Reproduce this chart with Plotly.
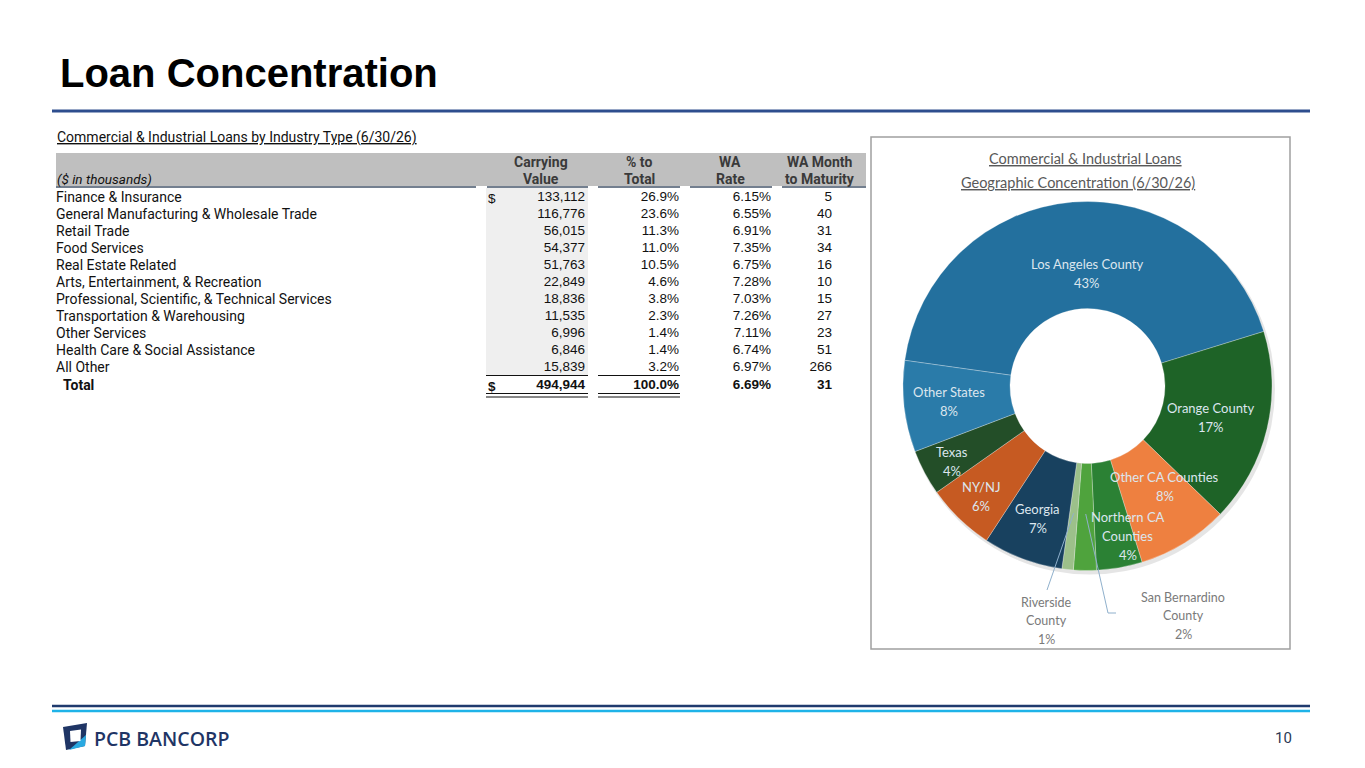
import math
import plotly.graph_objects as go

W, H = 1365, 768

# ---- table data: C&I loans by industry type ----
industries = [
    "Finance & Insurance",
    "General Manufacturing & Wholesale Trade",
    "Retail Trade",
    "Food Services",
    "Real Estate Related",
    "Arts, Entertainment, & Recreation",
    "Professional, Scientific, & Technical Services",
    "Transportation & Warehousing",
    "Other Services",
    "Health Care & Social Assistance",
    "All Other",
]
carrying_value = [133112, 116776, 56015, 54377, 51763, 22849, 18836, 11535, 6996, 6846, 15839]
pct_to_total = [26.9, 23.6, 11.3, 11.0, 10.5, 4.6, 3.8, 2.3, 1.4, 1.4, 3.2]
wa_rate = [6.15, 6.55, 6.91, 7.35, 6.75, 7.28, 7.03, 7.26, 7.11, 6.74, 6.97]
wa_months = [5, 40, 31, 34, 16, 10, 15, 27, 23, 51, 266]
total_value = 494944
total_pct = 100.0
total_rate = 6.69
total_months = 31

# ---- donut data: geographic concentration ----
regions = [
    "Los Angeles County", "Orange County", "Other CA Counties", "Northern CA<br>Counties",
    "San Bernardino<br>County", "Riverside<br>County", "Georgia", "NY/NJ", "Texas", "Other States",
]
region_pct = [43, 17, 8, 4, 2, 1, 7, 6, 4, 8]

# ---- styles ----
region_colors = ["#23709E", "#1E6327", "#EE8040", "#2B8134", "#4FA33D",
                 "#9CC08A", "#18415F", "#C65A22", "#234E28", "#2A7BA9"]
outside = {"San Bernardino<br>County": (1183, 597), "Riverside<br>County": (1046, 602)}
# label placement: (radius, angle nudge in degrees)
label_pos = {"Los Angeles County": (113, 4.5), "Orange County": (127, 1), "Other CA Counties": (127, -6),
             "Northern CA<br>Counties": (155, -5), "Georgia": (142, 0), "NY/NJ": (153, 0),
             "Texas": (155, -1), "Other States": (139, 0)}
LABEL_FONT = "Lato"
TABLE_FONT = "Roboto"
NUM_FONT = "Liberation Sans"
NAVY = "#1F3565"

cx, cy, r_out, hole = 1087.5, 386, 184.5, 0.42
rotation = -82

fig = go.Figure()

# table cells, placed on a pixel-unit hidden axis
row_y = [198 + 17 * i for i in range(len(industries))]
total_y = 386


def text_col(x, ys, texts, pos, family, size=14, bold=False):
    fig.add_trace(go.Scatter(
        x=[x] * len(ys), y=ys, text=texts, mode="text", textposition=pos,
        textfont=dict(family=family, size=size, color="#111111", weight="bold" if bold else "normal"),
        hoverinfo="skip", cliponaxis=False, showlegend=False))


text_col(56, row_y, industries, "middle right", TABLE_FONT)
text_col(585, row_y, [f"{v:,}" for v in carrying_value], "middle left", NUM_FONT, 13.5)
text_col(679, row_y, [f"{v:.1f}%" for v in pct_to_total], "middle left", NUM_FONT, 13.5)
text_col(771, row_y, [f"{v:.2f}%" for v in wa_rate], "middle left", NUM_FONT, 13.5)
text_col(832, row_y, [str(v) for v in wa_months], "middle left", NUM_FONT, 13.5)

text_col(63, [total_y], ["Total"], "middle right", TABLE_FONT, 14, True)
text_col(585, [total_y], [f"{total_value:,}"], "middle left", NUM_FONT, 13.5, True)
text_col(679, [total_y], [f"{total_pct:.1f}%"], "middle left", NUM_FONT, 13.5, True)
text_col(771, [total_y], [f"{total_rate:.2f}%"], "middle left", NUM_FONT, 13.5, True)
text_col(832, [total_y], [str(total_months)], "middle left", NUM_FONT, 13.5, True)

# donut
fig.add_trace(go.Pie(
    labels=regions, values=region_pct, hole=hole, sort=False, direction="clockwise",
    rotation=rotation, textinfo="none", hoverinfo="label+percent",
    marker=dict(colors=region_colors, line=dict(color="rgba(255,255,255,0.35)", width=0.8)),
    domain=dict(x=[(cx - r_out) / W, (cx + r_out) / W], y=[1 - (cy + r_out) / H, 1 - (cy - r_out) / H]),
    showlegend=False,
))

shapes = []
annotations = []


def line(x0, y0, x1, y1, color, width):
    shapes.append(dict(type="line", xref="x", yref="y", x0=x0, y0=y0, x1=x1, y1=y1,
                       line=dict(color=color, width=width)))


def rect(x0, y0, x1, y1, fill, line_color=None, width=0, layer="below"):
    shapes.append(dict(type="rect", xref="x", yref="y", x0=x0, y0=y0, x1=x1, y1=y1,
                       fillcolor=fill, layer=layer,
                       line=dict(color=line_color or fill, width=width)))


def circle(r, fill, dx=0, dy=0):
    shapes.append(dict(type="circle", xref="x", yref="y", layer="below",
                       x0=cx - r + dx, y0=cy - r + dy, x1=cx + r + dx, y1=cy + r + dy,
                       fillcolor=fill, line=dict(width=0)))


def text(x, y, s, size, color="#111111", family=TABLE_FONT, anchor="left", weight="normal"):
    annotations.append(dict(x=x, y=y, xref="x", yref="y", text=s, showarrow=False,
                            xanchor=anchor, yanchor="middle",
                            font=dict(family=family, size=size, color=color, weight=weight)))


# page title + rule
text(58, 73, "Loan Concentration", 40, "#000000", "Liberation Sans", weight="bold")
line(52, 111, 1310, 111, "#2E4E8E", 3)

# table header
text(55, 137, "<u>Commercial & Industrial Loans by Industry Type (6/30/26)</u>", 14)
rect(56, 153, 866, 186, "#BFBFBF")
text(55, 179, "<i>($ in thousands)</i>", 13.5)
for cx_h, l1, l2 in [(541, "Carrying", "Value"), (639, "% to", "Total"),
                     (730, "WA", "Rate"), (820, "WA Month", "to Maturity")]:
    text(cx_h, 162, l1, 14, "#3A3A3A", anchor="center", weight="bold")
    text(cx_h, 179, l2, 14, "#3A3A3A", anchor="center", weight="bold")
for x0, x1 in [(56, 476), (487, 588), (598, 680), (690, 772), (782, 866)]:
    line(x0, 187, x1, 187, "#44546A", 1.3)

rect(486, 188, 588, 375, "#EFEFEF")
text(486, row_y[0], "$", 13.5, family=NUM_FONT)
text(486, total_y, "$", 13.5, family=NUM_FONT, weight="bold")
for x0, x1 in [(486, 588), (598, 680)]:
    line(x0, 375.5, x1, 375.5, "#111111", 1)
    line(x0, 393.5, x1, 393.5, "#111111", 1)
    line(x0, 397, x1, 397, "#111111", 1)

# donut box + title
rect(871, 137, 1290, 649, "rgba(0,0,0,0)", "#A0A0A0", 1.5, layer="above")
text(1085, 158, "<u>Commercial & Industrial Loans</u>", 14.5, "#595959", LABEL_FONT, "center")
text(1078, 182, "<u>Geographic Concentration (6/30/26)</u>", 14.5, "#595959", LABEL_FONT, "center")
circle(r_out + 1, "rgba(0,0,0,0.10)", 2, 3)
circle(r_out * hole, "white")


def ring_point(angle_deg, r):
    a = math.radians(angle_deg)
    return cx + r * math.sin(a), cy - r * math.cos(a)


start = rotation
total = sum(region_pct)
for name, v in zip(regions, region_pct):
    span = 360 * v / total
    mid = start + span / 2
    start += span
    lines = name.split("<br>") + [f"{v}%"]
    if name in outside:
        lx, ly = outside[name]
        px0, py0 = ring_point(mid, 128)
        if name.startswith("Riverside"):
            line(px0, py0, lx + 1, ly - 12, "#8FB0CC", 1)
        else:
            line(px0, py0, lx - 75, ly + 16, "#8FB0CC", 1)
            line(lx - 75, ly + 16, lx - 67, ly + 16, "#8FB0CC", 1)
        for i, s in enumerate(lines):
            text(lx, ly + i * 18.5, s, 12.5, "#7A7A7A", LABEL_FONT, "center")
    else:
        r_lab, nudge = label_pos[name]
        lx, ly = ring_point(mid + nudge, r_lab)
        y0 = ly - (len(lines) - 1) * 9.5
        for i, s in enumerate(lines):
            text(lx, y0 + i * 19, s, 13, "#DCE6EE", LABEL_FONT, "center")

# footer
line(52, 706, 1310, 706, "#1F3A6E", 2.5)
line(52, 711, 1310, 711, "#1FB3E8", 2.5)
shapes.append(dict(type="path", xref="x", yref="y", layer="above",
                   path="M 63 727 L 87 723 L 85 746 L 66 750 Z",
                   fillcolor=NAVY, line=dict(width=0)))
shapes.append(dict(type="path", xref="x", yref="y", layer="above",
                   path="M 69 750 L 86 735 L 85 746 Z",
                   fillcolor="#29A9E1", line=dict(width=0)))
shapes.append(dict(type="path", xref="x", yref="y", layer="above",
                   path="M 70 731 L 81 729.5 L 80.5 741 L 70.5 742 Z",
                   fillcolor="white", line=dict(width=0)))
text(92, 738, "PCB BANCORP", 19.5, NAVY, "Open Sans", weight=600)
text(1283, 738, "10", 15, "#2B3A55", "Roboto", "center")

fig.update_layout(
    width=W, height=H, margin=dict(l=0, r=0, t=0, b=0),
    paper_bgcolor="white", plot_bgcolor="white", showlegend=False,
    xaxis=dict(range=[0, W], visible=False, fixedrange=True),
    yaxis=dict(range=[H, 0], visible=False, fixedrange=True),
    shapes=shapes, annotations=annotations,
)

fig.write_html("out.html", config={"displayModeBar": False},
               post_script="document.body.style.margin = '0';")
